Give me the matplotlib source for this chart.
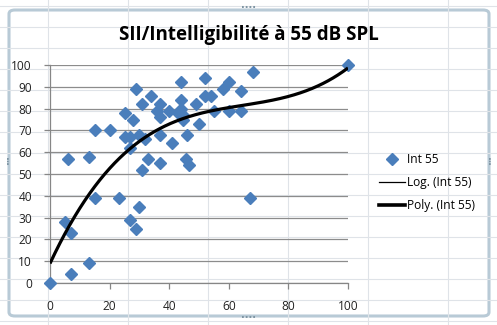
import numpy as np
import matplotlib
matplotlib.use("Agg")
import matplotlib.pyplot as plt
from matplotlib.lines import Line2D
from matplotlib.patches import FancyBboxPatch

# SII (x) versus word intelligibility in % (y) at 55 dB SPL
sii = [0, 7, 5, 7, 6, 13, 13, 15, 15, 20, 23, 25, 25, 27, 27, 27, 28, 29, 29,
       30, 30, 31, 31, 32, 33, 34, 36, 37, 37, 37, 37, 40, 41, 44, 44, 44, 43,
       44.5, 44.7, 46, 45.6, 46.5, 49, 50, 52, 52, 54, 55, 58, 60, 60, 64, 64,
       67, 68, 100]
intel = [0, 4, 28, 23, 57, 9, 58, 70, 39, 70, 39, 78, 67, 67, 29, 62, 75, 25, 89,
         35, 68, 82, 52, 66, 57, 86, 79, 82, 76, 68, 55, 79, 64, 92, 84, 80, 78,
         77, 75, 68, 57, 54, 82, 73, 94, 86, 86, 79, 89, 92, 79, 88, 79,
         39, 97, 100]

x_ticks = [0, 20, 40, 60, 80, 100]
y_ticks = [0, 10, 20, 30, 40, 50, 60, 70, 80, 90, 100]
title = "SII/Intelligibilité à 55 dB SPL"
series_name = "Int 55"

W, H = 497, 325
fig = plt.figure(figsize=(W / 100, H / 100), dpi=100)
fig.patch.set_facecolor("white")

# spreadsheet cells behind the chart object
grid_col = "#dfe3e8"
for gx in range(48, W, 80):
    fig.add_artist(Line2D([gx / W, gx / W], [0, 1], color=grid_col, lw=0.8))
for gy in range(6, H, 21):
    fig.add_artist(Line2D([0, 1], [1 - gy / H, 1 - gy / H], color=grid_col, lw=0.8))

# chart object frame
frame = FancyBboxPatch((9 / W, (H - 316) / H), (489 - 9) / W, (316 - 10) / H,
                       boxstyle="round,pad=0,rounding_size=0.012",
                       transform=fig.transFigure, facecolor="white",
                       edgecolor="#b8cad6", lw=2.2, zorder=0.5)
fig.add_artist(frame)

ax = fig.add_axes([50 / W, (H - 283) / H, (348 - 50) / W, (283 - 65) / H])
ax.set_zorder(2)
ax.patch.set_alpha(0)

tick_font = dict(family="Open Sans", size=8.6)

ax.set_xlim(0, 100)
ax.set_ylim(0, 100)
ax.set_xticks(x_ticks)
ax.set_yticks(y_ticks)
ax.set_xticklabels([str(v) for v in x_ticks], **tick_font)
ax.set_yticklabels([str(v) for v in y_ticks], **tick_font)
ax.tick_params(axis="both", colors="#868686", labelcolor="#222222",
               length=4, width=0.9, direction="out")
ax.tick_params(axis="y", pad=9)
ax.tick_params(axis="x", pad=8)
ax.yaxis.grid(True, color="#8c8c8c", lw=0.9)
ax.set_axisbelow(True)
for side in ("top", "right"):
    ax.spines[side].set_visible(False)
for side in ("left", "bottom"):
    ax.spines[side].set_color("#868686")
    ax.spines[side].set_linewidth(0.9)

ax.plot(sii, intel, "D", color="#4a7ebb", ms=6.0, mec="#4a7ebb",
        clip_on=False, zorder=3)

# third-order polynomial trend line
coef = np.polyfit(sii, intel, 3)
xs = np.linspace(0, 100, 300)
ax.plot(xs, np.polyval(coef, xs), color="black", lw=2.3, zorder=4,
        solid_capstyle="butt")

handles = [
    Line2D([], [], ls="none", marker="D", color="#4a7ebb", ms=6.0),
    Line2D([], [], color="black", lw=0.9),
    Line2D([], [], color="black", lw=2.6),
]
labels = [series_name, "Log. (" + series_name + ")", "Poly. (" + series_name + ")"]
fig.legend(handles, labels, loc="upper left",
           bbox_to_anchor=(379 / W, 1 - 153 / H), frameon=False,
           prop=dict(family="Open Sans", size=8.6), handlelength=2.2,
           handletextpad=0.15, labelspacing=0.85, borderaxespad=0,
           borderpad=0)

fig.text(0.5, 1 - 35 / H, title, ha="center", va="center",
         fontsize=13.5, fontweight="bold", family="Open Sans", color="black")

# selection handles on the frame
hc = "#7f95a3"
for (tx, ty) in [(248, 8), (248, 318), (8, 162), (490, 162)]:
    fig.text(tx / W, 1 - ty / H, "····" if ty in (8, 318) else "⋮",
             ha="center", va="center", fontsize=7, color=hc,
             fontweight="bold")

fig.savefig("out.png", dpi=100)
